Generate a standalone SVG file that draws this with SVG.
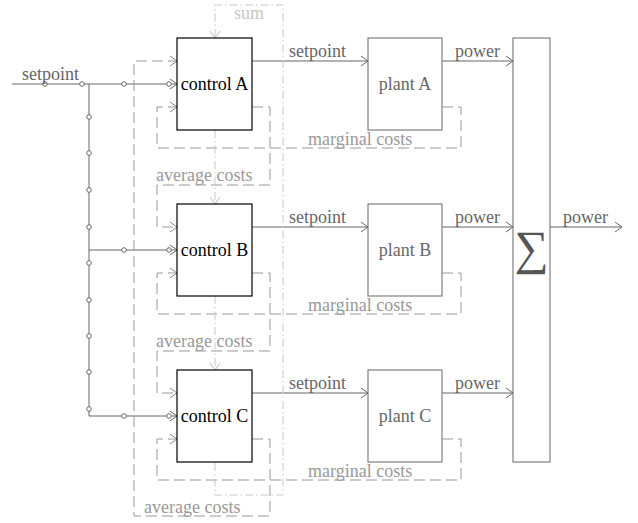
<svg xmlns="http://www.w3.org/2000/svg" width="638" height="523" viewBox="0 0 638 523" font-family="'Liberation Serif', 'DejaVu Serif', serif" font-size="18">
<defs>
<style>
text{font-family:'Liberation Serif','DejaVu Serif',serif;font-size:18px}
.ctrl rect{fill:#fff;stroke:#000;stroke-width:1.2}
.ctrl text{fill:#000;text-anchor:middle}
.plant rect{fill:#fff;stroke:#666;stroke-width:1}
.plant text{fill:#666;text-anchor:middle}
.sol{fill:none;stroke:#666;stroke-width:1}
.dash{fill:none;stroke:#999;stroke-width:1;stroke-dasharray:11,5}
.dd{fill:none;stroke:#c8c8c8;stroke-width:1;stroke-dasharray:8,3,1.5,3}
.lbl{fill:#666}
.glbl{fill:#999}
.slbl{fill:#c8c8c8}
.dot{fill:#fff;stroke:#666;stroke-width:1}
</style>
<marker id="aS" markerUnits="userSpaceOnUse" markerWidth="12" markerHeight="12" viewBox="-8 -6 9 12" refX="0" refY="0" orient="auto"><path d="M-7,-5 L0,0 L-7,5" fill="none" stroke="#666" stroke-width="1"/></marker>
<marker id="aG" markerUnits="userSpaceOnUse" markerWidth="12" markerHeight="12" viewBox="-8 -6 9 12" refX="0" refY="0" orient="auto"><path d="M-7,-5 L0,0 L-7,5" fill="none" stroke="#888" stroke-width="1"/></marker>
<marker id="aL" markerUnits="userSpaceOnUse" markerWidth="12" markerHeight="12" viewBox="-8 -6 9 12" refX="0" refY="0" orient="auto"><path d="M-7,-5 L0,0 L-7,5" fill="none" stroke="#bbb" stroke-width="1"/></marker>
</defs>
<rect width="638" height="523" fill="#fff"/>

<g id="connectors">
<path class="sol" d="M12,84 H177" marker-end="url(#aS)"/>
<path class="sol" d="M89,84 V416 H177" marker-end="url(#aS)"/>
<path class="sol" d="M89,250 H177" marker-end="url(#aS)"/>
<g class="dot">
<circle cx="45" cy="84" r="2.3"/><circle cx="82" cy="84" r="2.3"/>
<circle cx="124" cy="84" r="2.3"/><circle cx="169" cy="84" r="2.3"/>
<circle cx="124" cy="250" r="2.3"/><circle cx="169" cy="250" r="2.3"/>
<circle cx="124" cy="416" r="2.3"/><circle cx="169" cy="416" r="2.3"/>
<circle cx="89" cy="117" r="2.3"/><circle cx="89" cy="153" r="2.3"/>
<circle cx="89" cy="190" r="2.3"/><circle cx="89" cy="227" r="2.3"/>
<circle cx="89" cy="263" r="2.3"/><circle cx="89" cy="300" r="2.3"/>
<circle cx="89" cy="336" r="2.3"/><circle cx="89" cy="372" r="2.3"/>
<circle cx="89" cy="409" r="2.3"/>
</g>
<text class="lbl" x="22" y="80">setpoint</text>

<path class="sol" d="M252,61 H368" marker-end="url(#aS)"/>
<path class="sol" d="M252,227 H368" marker-end="url(#aS)"/>
<path class="sol" d="M252,393 H368" marker-end="url(#aS)"/>
<text class="lbl" x="289" y="57">setpoint</text>
<text class="lbl" x="289" y="223">setpoint</text>
<text class="lbl" x="289" y="389">setpoint</text>

<path class="sol" d="M442,61 H513" marker-end="url(#aS)"/>
<path class="sol" d="M442,227 H513" marker-end="url(#aS)"/>
<path class="sol" d="M442,393 H513" marker-end="url(#aS)"/>
<text class="lbl" x="455" y="57">power</text>
<text class="lbl" x="455" y="223">power</text>
<text class="lbl" x="455" y="389">power</text>

<path class="sol" d="M550,227 H622" marker-end="url(#aS)"/>
<text class="lbl" x="563" y="223">power</text>

<path class="dash" d="M442,107 H461 V148 H157 V107 H177" marker-end="url(#aG)"/>
<path class="dash" d="M442,273 H461 V314 H157 V273 H177" marker-end="url(#aG)"/>
<path class="dash" d="M442,439 H461 V480 H157 V439 H177" marker-end="url(#aG)"/>
<text class="glbl" x="308" y="145">marginal costs</text>
<text class="glbl" x="308" y="311">marginal costs</text>
<text class="glbl" x="308" y="477">marginal costs</text>

<path class="dash" d="M252,107 H270 V185 H157 V227 H177" marker-end="url(#aG)"/>
<path class="dash" d="M252,273 H270 V351 H157 V393 H177" marker-end="url(#aG)"/>
<path class="dash" d="M252,439 H270 V516 H134 V61 H177" marker-end="url(#aG)"/>
<text class="glbl" x="156" y="181">average costs</text>
<text class="glbl" x="156" y="347">average costs</text>
<text class="glbl" x="144" y="513">average costs</text>

<path class="dd" d="M215,463 V495 H283 V5 H215 V38" marker-end="url(#aL)"/>
<path class="dd" d="M215,130 V204" marker-end="url(#aL)"/>
<path class="dd" d="M215,296 V370" marker-end="url(#aL)"/>
<text class="slbl" x="234" y="19">sum</text>
</g>

<g id="controlA" class="ctrl"><rect x="177" y="38" width="75" height="92"/><text x="214.5" y="90">control A</text></g>
<g id="controlB" class="ctrl"><rect x="177" y="204" width="75" height="92"/><text x="214.5" y="256">control B</text></g>
<g id="controlC" class="ctrl"><rect x="177" y="370" width="75" height="92"/><text x="214.5" y="422">control C</text></g>

<g id="plantA" class="plant"><rect x="368" y="38" width="74" height="92"/><text x="405" y="90">plant A</text></g>
<g id="plantB" class="plant"><rect x="368" y="204" width="74" height="92"/><text x="405" y="256">plant B</text></g>
<g id="plantC" class="plant"><rect x="368" y="370" width="74" height="92"/><text x="405" y="422">plant C</text></g>

<g id="sum"><rect x="513" y="38" width="37" height="424" fill="#fff" stroke="#666" stroke-width="1"/><text x="531.5" y="264" fill="#555" text-anchor="middle" style="font-size:48px">∑</text></g>
</svg>
